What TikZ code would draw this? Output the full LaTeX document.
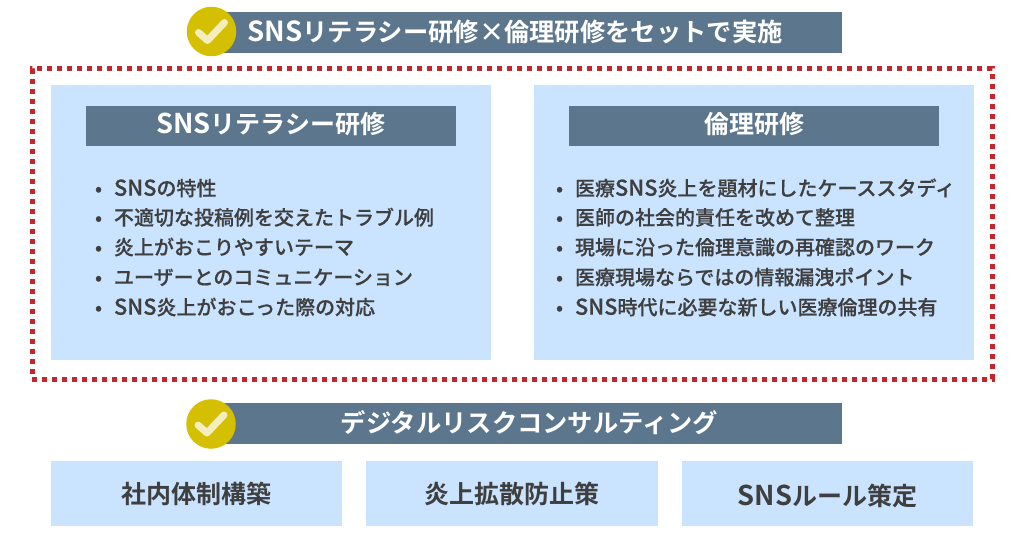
\documentclass[tikz,border=0pt]{standalone}
\usepackage{fontspec}
\setmainfont[FakeBold=0.3]{Noto Sans CJK JP Medium}
\newfontfamily\jpbold{Noto Sans CJK JP Bold}
\newfontfamily\snsmed[Scale=1.09,FakeBold=0.3]{Noto Sans CJK JP Medium}
\newfontfamily\snsbold[Scale=1.09]{Noto Sans CJK JP Bold}
\usetikzlibrary{positioning}

\definecolor{barblue}{HTML}{5C768D}
\definecolor{boxblue}{HTML}{CAE4FF}
\definecolor{inkgray}{HTML}{3F3F3F}
\definecolor{dotred}{HTML}{C1272D}
\definecolor{badgegold}{HTML}{D4C000}
\definecolor{checkpale}{HTML}{F3EDC0}

\begin{document}
\begin{tikzpicture}[
  x=1pt,y=-1pt,
  every node/.style={inner sep=0pt,outer sep=0pt},
  bar/.style={fill=barblue,minimum height=41pt},
  headtext/.style={text=white,font=\jpbold\fontsize{25.3}{25.3}\selectfont,text height=21pt,text depth=3pt},
  subbar/.style={bar,headtext,font=\jpbold\fontsize{25}{25}\selectfont,text height=19pt,minimum width=370pt,minimum height=40pt},
  panel/.style={fill=boxblue,minimum width=440pt,minimum height=275pt},
  tile/.style={fill=boxblue,text=inkgray,font=\jpbold\fontsize{25}{25}\selectfont,
    minimum height=65pt,text height=23pt,text depth=3pt},
  listrow/.style={anchor=base west,text=inkgray,font=\fontsize{20}{20}\selectfont},
  badge/.style={circle,fill=badgegold,minimum size=49.5pt},
  checkstroke/.style={draw=checkpale,line width=7pt,line cap=round,line join=round}]

  \useasboundingbox (0,0) rectangle (1024,537);

  % dotted frame
  \node[draw=dotred,line width=5pt,dash pattern=on 5pt off 5pt,
        minimum width=960pt,minimum height=310pt] (frame) at (512,224) {};

  % heading bars
  \node[bar,minimum width=631pt] (topbar) at (526.5,32.5) {};
  \node[bar,minimum width=631pt] (lowbar) at (526.5,423.5) {};
  \node[headtext] (toptitle) at (515,32.5)   {{\snsbold SNS}リテラシー研修×倫理研修をセットで実施};
  \node[headtext] (lowtitle) at (529.5,423.5) {デジタルリスクコンサルティング};

  \node[badge] (topbadge) at (211.5,31.5) {};
  \node[badge] (lowbadge) at (211,424) {};

  \draw[checkstroke] ([shift={(-13,1)}]topbadge.center) -- ([shift={(-4,9)}]topbadge.center) -- ([shift={(13,-9)}]topbadge.center);
  \draw[checkstroke] ([shift={(-13,1)}]lowbadge.center) -- ([shift={(-4,9)}]lowbadge.center) -- ([shift={(13,-9)}]lowbadge.center);

  % panels
  \node[panel] (litpanel) at (271.3,222.5) {};
  \node[panel] (ethpanel) at (753.5,222.5) {};

  \node[subbar] (lithead) at (271,126) {{\snsbold SNS}リテラシー研修};
  \node[subbar] (ethhead) at (754,126) {倫理研修};

  % left list
  \node[listrow] (lit1) at (95,195.7)  {\makebox[19pt][l]{•}{\snsmed SNS}の特性};
  \node[listrow] (lit2) at (95,225)    {\makebox[19pt][l]{•}不適切な投稿例を交えたトラブル例};
  \node[listrow] (lit3) at (95,254.7)  {\makebox[19pt][l]{•}炎上がおこりやすいテーマ};
  \node[listrow] (lit4) at (95,284.7)  {\makebox[19pt][l]{•}ユーザーとのコミュニケーション};
  \node[listrow] (lit5) at (95,314.7)  {\makebox[19pt][l]{•}{\snsmed SNS}炎上がおこった際の対応};

  % right list
  \node[listrow] (eth1) at (556,195.7) {\makebox[19pt][l]{•}医療{\snsmed SNS}炎上を題材にしたケーススタディ};
  \node[listrow] (eth2) at (556,225)   {\makebox[19pt][l]{•}医師の社会的責任を改めて整理};
  \node[listrow] (eth3) at (556,254.7) {\makebox[19pt][l]{•}現場に沿った倫理意識の再確認のワーク};
  \node[listrow] (eth4) at (556,284.7) {\makebox[19pt][l]{•}医療現場ならではの情報漏洩ポイント};
  \node[listrow] (eth5) at (556,314.7) {\makebox[19pt][l]{•}{\snsmed SNS}時代に必要な新しい医療倫理の共有};

  % bottom tiles
  \node[tile,minimum width=291pt] (tile1) at (196.5,493.5) {社内体制構築};
  \node[tile,minimum width=292pt] (tile2) at (512,493.5)   {炎上拡散防止策};
  \node[tile,minimum width=291pt,text height=27pt] (tile3) at (827.5,493.5) {{\snsbold SNS}ルール策定};

\end{tikzpicture}
\end{document}
